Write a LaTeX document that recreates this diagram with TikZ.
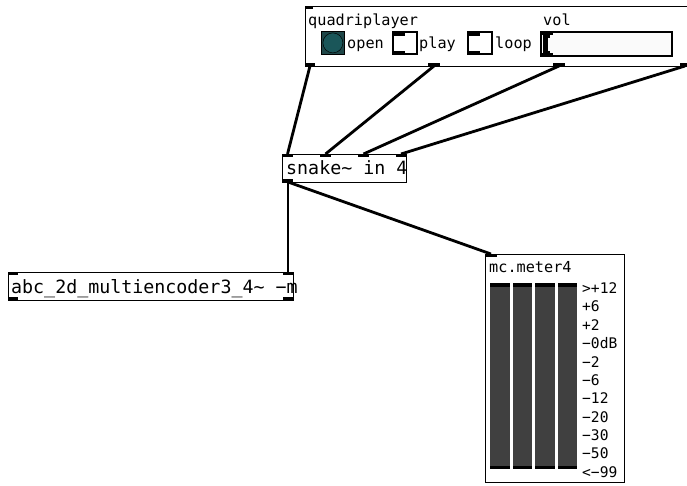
\documentclass[tikz,border=0pt]{standalone}
\usepackage{fontspec}
\setmonofont{DejaVu Sans Mono}
\definecolor{togglebg}{RGB}{30,70,72}
\definecolor{toggledot}{RGB}{26,86,89}
\definecolor{meterbar}{RGB}{64,64,64}
\definecolor{sliderbg}{RGB}{250,250,250}
\tikzset{
  obj/.style={draw=black, line width=1pt, fill=white, inner sep=0pt, outer sep=0pt, anchor=north west},
  tab/.style={fill=black},
  wire/.style={line width=2.8pt},
  big/.style={inner sep=0pt, anchor=base west, font=\ttfamily\fontsize{18.3}{21}\selectfont},
  small/.style={inner sep=0pt, anchor=base west, font=\ttfamily\fontsize{15.2}{18}\selectfont},
  dblabel/.style={inner sep=0pt, anchor=west, font=\ttfamily\fontsize{14.6}{17}\selectfont},
}
\begin{document}
\begin{tikzpicture}[x=1pt, y=-1pt]
\useasboundingbox (0,0) rectangle (687,485);
\clip (0,0) rectangle (687,485);

% ---------- quadriplayer abstraction ----------
\node[obj, minimum width=386pt, minimum height=60pt] (qp) at (305,6) {};
\fill[tab] (305,6) rectangle (313,9);
\fill[tab] (305,63) rectangle (315,66);
\fill[tab] (428,63) rectangle (440,66);
\fill[tab] (553,63) rectangle (565,66);
\fill[tab] (680,63) rectangle (690,66);
\coordinate (qp-o1) at (310,66);
\coordinate (qp-o2) at (434,66);
\coordinate (qp-o3) at (559,66);
\coordinate (qp-o4) at (685,66);
\node[small] (qptitle) at (308,25) {quadriplayer};
\node[small] (voltitle) at (543,25) {vol};

% open button
\node[draw=black, line width=0.8pt, fill=togglebg, minimum size=23pt, inner sep=0pt, anchor=north west] (openbtn) at (321,31) {};
\node[draw=black, line width=0.5pt, fill=toggledot, circle, minimum size=20pt, inner sep=0pt] (opendot) at (openbtn.center) {};
\node[small] (openlbl) at (347,48) {open};

% play toggle
\node[obj, line width=1.2pt, minimum width=24pt, minimum height=22pt] (playtgl) at (393,32) {};
\fill[tab] (393,32) rectangle (405,35.5);
\fill[tab] (393,50.5) rectangle (405,54);
\node[small] (playlbl) at (419,48) {play};

% loop toggle
\node[obj, line width=1.2pt, minimum width=24pt, minimum height=22pt] (looptgl) at (468,32) {};
\fill[tab] (468,32) rectangle (480,35.5);
\fill[tab] (468,50.5) rectangle (480,54);
\node[small] (looplbl) at (495,48) {loop};

% vol slider
\node[obj, line width=1.2pt, fill=sliderbg, minimum width=131pt, minimum height=24pt] (volsl) at (541,32) {};
\fill[tab] (541,32) rectangle (553,35);
\fill[tab] (541,53) rectangle (553,56);
\fill[tab] (543,34) rectangle (547.5,54);
\fill[tab] (543,35) rectangle (550,37.5);
\fill[tab] (543,51) rectangle (550,53.5);

% ---------- snake~ in 4 ----------
\node[obj, minimum width=124pt, minimum height=28pt] (snake) at (282,154) {};
\node[big] (snaketxt) at (286,174.5) {snake\char`\~{} in 4};
\fill[tab] (282,154) rectangle (293,157);
\fill[tab] (320,154) rectangle (331,157);
\fill[tab] (358,154) rectangle (369,157);
\fill[tab] (396,154) rectangle (406,157);
\fill[tab] (283,179) rectangle (293,182);
\coordinate (sn-i1) at (287.5,154);
\coordinate (sn-i2) at (325.5,154);
\coordinate (sn-i3) at (363.5,154);
\coordinate (sn-i4) at (401,154);
\coordinate (sn-o1) at (288,182);

% ---------- encoder ----------
\node[obj, minimum width=285pt, minimum height=28pt] (enc) at (8,272) {};
\fill[tab] (8,272) rectangle (18,275);
\fill[tab] (283,272) rectangle (293,275);
\fill[tab] (8,297) rectangle (18,300);
\fill[tab] (283,297) rectangle (293,300);
\node[big] (enctxt) at (11,293) {abc\_2d\_multiencoder3\_4\char`\~{} −m};
\coordinate (enc-i2) at (288,272);

% ---------- mc.meter4 ----------
\node[obj, minimum width=139pt, minimum height=228pt] (meter) at (485,254) {};
\fill[tab] (485,254) rectangle (497,257);
\coordinate (mt-i1) at (491,254);
\node[small] (metertitle) at (489,272) {mc.meter4};
\foreach \bx in {490,512.5,535,557.5}{
  \fill[meterbar] (\bx,283) rectangle ++(19.5,186);
  \fill[tab] (\bx,283) rectangle ++(19.5,3.5);
  \fill[tab] (\bx,465.5) rectangle ++(19.5,3.5);
}
\foreach \txt [count=\i from 0] in {>+12,+6,+2,−0dB,−2,−6,−12,−20,−30,−50,<−99}{
  \node[dblabel] (scl\i) at (582,288+18.4*\i) {\txt};
}

% ---------- patch cords ----------
\draw[wire] (qp-o1) -- (sn-i1);
\draw[wire] (qp-o2) -- (sn-i2);
\draw[wire] (qp-o3) -- (sn-i3);
\draw[wire] (qp-o4) -- (sn-i4);
\draw[wire] (sn-o1) -- (enc-i2);
\draw[wire] (sn-o1) -- (mt-i1);
\end{tikzpicture}
\end{document}
